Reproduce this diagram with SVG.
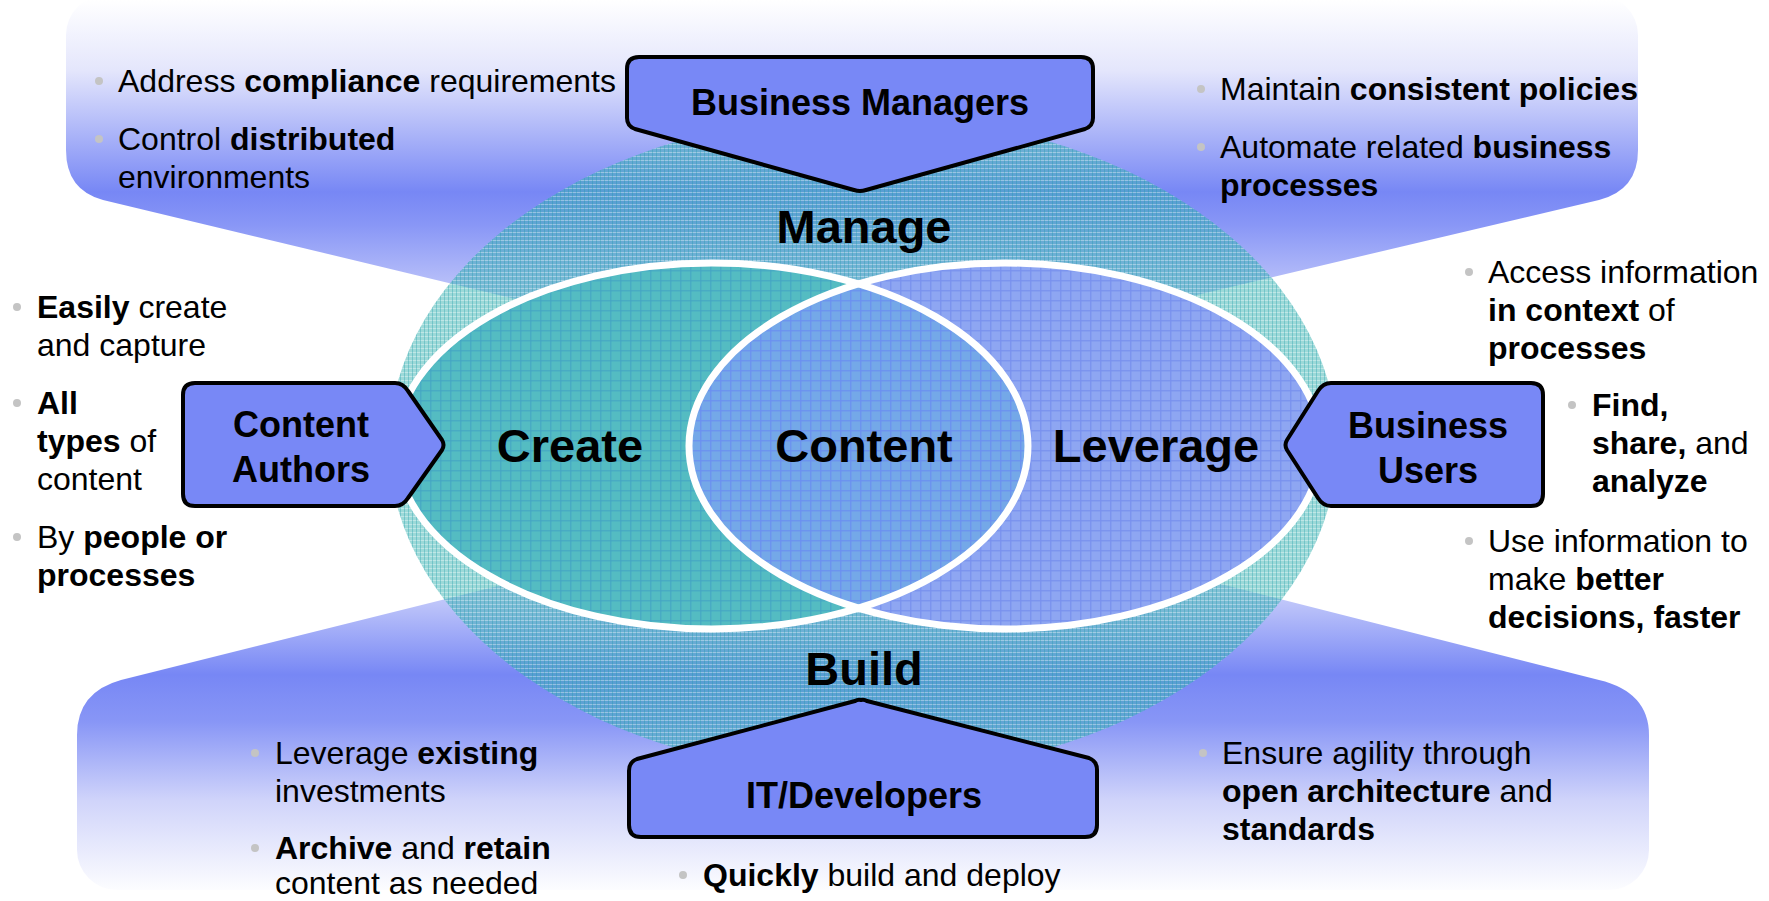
<svg xmlns="http://www.w3.org/2000/svg" width="1769" height="901" viewBox="0 0 1769 901">
<defs>
<style>
text{font-family:"Liberation Sans",Arial,sans-serif;fill:#000}
.b{font-weight:bold}
.bul{font-size:32px}
.big{font-size:47px;font-weight:bold;text-anchor:middle}
.lbl{font-size:36px;font-weight:bold;text-anchor:middle}
.box{fill:#7888f6;stroke:#000;stroke-width:4;stroke-linejoin:round}
.dot{fill:#c4c4c4}
.ring{fill:none;stroke:#fff;stroke-width:7}
</style>
<linearGradient id="gTop" gradientUnits="userSpaceOnUse" x1="0" y1="0" x2="0" y2="320">
<stop offset="0" stop-color="#ffffff"/>
<stop offset="0.22" stop-color="#e4e6fc"/>
<stop offset="0.6" stop-color="#7787f5"/>
<stop offset="0.7" stop-color="#8896f6"/>
<stop offset="1" stop-color="#d4d8fb"/>
</linearGradient>
<linearGradient id="gBot" gradientUnits="userSpaceOnUse" x1="0" y1="580" x2="0" y2="895">
<stop offset="0" stop-color="#d4d8fb"/>
<stop offset="0.3" stop-color="#7787f5"/>
<stop offset="0.45" stop-color="#8896f6"/>
<stop offset="0.7" stop-color="#d0d4fa"/>
<stop offset="1" stop-color="#ffffff"/>
</linearGradient>
<pattern id="plaid" width="4" height="4" patternUnits="userSpaceOnUse">
<rect width="4" height="4" fill="#3ab4b2" fill-opacity="0.5"/>
<rect width="4" height="1" fill="#ffffff" fill-opacity="0.35"/>
<rect width="1" height="4" fill="#1e9aa8" fill-opacity="0.35"/>
</pattern>
<pattern id="gridL" width="10" height="10" patternUnits="userSpaceOnUse">
<rect width="10" height="10" fill="#54bcc2"/>
<rect width="10" height="1.5" fill="#44a4c4" fill-opacity="0.7"/>
<rect width="1.5" height="10" fill="#44a4c4" fill-opacity="0.7"/>
</pattern>
<pattern id="gridR" width="10" height="10" patternUnits="userSpaceOnUse">
<rect width="10" height="10" fill="#8ea6f2"/>
<rect width="10" height="1.5" fill="#7890ee" fill-opacity="0.8"/>
<rect width="1.5" height="10" fill="#7890ee" fill-opacity="0.8"/>
</pattern>
<pattern id="gridC" width="10" height="10" patternUnits="userSpaceOnUse">
<rect width="10" height="10" fill="#74a8e8"/>
<rect width="10" height="1.5" fill="#6a8ef0" fill-opacity="0.8"/>
<rect width="1.5" height="10" fill="#6a8ef0" fill-opacity="0.8"/>
</pattern>
<clipPath id="clipL"><ellipse cx="712" cy="446" rx="316" ry="183"/></clipPath>
</defs>
<rect width="1769" height="901" fill="#fff"/>
<g id="connectors">
<path id="panel-top" d="M66,35 A40,40 0 0 1 106,-5 H1598 A40,40 0 0 1 1638,35 V150 Q1638,190 1599,200 L845,378 L103,200 Q66,190 66,150 Z" fill="url(#gTop)"/>
<path id="panel-bottom" d="M866,494 L121,680 Q77,692 77,735 V850 A40,40 0 0 0 117,890 H1609 A40,40 0 0 0 1649,850 V735 Q1649,692 1599,680 Z" fill="url(#gBot)"/>
</g>
<g id="venn">
<ellipse id="outer" cx="863" cy="445" rx="474" ry="330" fill="url(#plaid)"/>
<ellipse id="create" cx="712" cy="446" rx="316" ry="183" fill="url(#gridL)"/>
<ellipse id="leverage" cx="1005" cy="446" rx="316" ry="183" fill="url(#gridR)"/>
<ellipse id="content" cx="1005" cy="446" rx="316" ry="183" fill="url(#gridC)" clip-path="url(#clipL)"/>
<ellipse class="ring" cx="712" cy="446" rx="316" ry="183"/>
<ellipse class="ring" cx="1005" cy="446" rx="316" ry="183"/>
<text class="big" x="864" y="243">Manage</text>
<text class="big" x="570" y="462">Create</text>
<text class="big" x="864" y="462">Content</text>
<text class="big" x="1156" y="462">Leverage</text>
<text class="big" x="864" y="685">Build</text>
</g>
<g id="business-managers">
<path class="box" d="M639,57 H1081 Q1093,57 1093,69 V118 Q1093,126 1085,129 L866,190 Q860,192 854,190 L635,129 Q627,126 627,118 V69 Q627,57 639,57 Z"/>
<text class="lbl" x="860" y="115">Business Managers</text>
</g>
<g id="content-authors">
<path class="box" d="M195,383 H395 Q403,383 408,391 L442,440 Q445,445 442,450 L408,498 Q403,506 395,506 H195 Q183,506 183,494 V395 Q183,383 195,383 Z"/>
<text class="lbl" x="301" y="437">Content</text>
<text class="lbl" x="301" y="482">Authors</text>
</g>
<g id="business-users">
<path class="box" d="M1531,383 H1331 Q1323,383 1318,391 L1287,440 Q1284,445 1287,450 L1318,498 Q1323,506 1331,506 H1531 Q1543,506 1543,494 V395 Q1543,383 1531,383 Z"/>
<text class="lbl" x="1428" y="438">Business</text>
<text class="lbl" x="1428" y="483">Users</text>
</g>
<g id="it-developers">
<path class="box" d="M861,700 Q864,699 867,701 L1089,758 Q1097,761 1097,770 V825 Q1097,837 1085,837 H641 Q629,837 629,825 V771 Q629,762 637,759 L855,701 Q858,699 861,700 Z"/>
<text class="lbl" x="864" y="808">IT/Developers</text>
</g>
<g id="bullets-top-left">
<circle class="dot" cx="99" cy="81" r="4"/>
<text class="bul" x="118" y="92">Address <tspan class="b">compliance</tspan> requirements</text>
<circle class="dot" cx="99" cy="139" r="4"/>
<text class="bul" x="118" y="150">Control <tspan class="b">distributed</tspan></text>
<text class="bul" x="118" y="188">environments</text>
</g>
<g id="bullets-top-right">
<circle class="dot" cx="1201" cy="89" r="4"/>
<text class="bul" x="1220" y="100">Maintain <tspan class="b">consistent policies</tspan></text>
<circle class="dot" cx="1201" cy="147" r="4"/>
<text class="bul" x="1220" y="158">Automate related <tspan class="b">business</tspan></text>
<text class="bul b" x="1220" y="196">processes</text>
</g>
<g id="bullets-left">
<circle class="dot" cx="17" cy="307" r="4"/>
<text class="bul" x="37" y="318"><tspan class="b">Easily</tspan> create</text>
<text class="bul" x="37" y="356">and capture</text>
<circle class="dot" cx="17" cy="403" r="4"/>
<text class="bul b" x="37" y="414">All</text>
<text class="bul" x="37" y="452"><tspan class="b">types</tspan> of</text>
<text class="bul" x="37" y="490">content</text>
<circle class="dot" cx="17" cy="537" r="4"/>
<text class="bul" x="37" y="548">By <tspan class="b">people or</tspan></text>
<text class="bul b" x="37" y="586">processes</text>
</g>
<g id="bullets-right">
<circle class="dot" cx="1469" cy="272" r="4"/>
<text class="bul" x="1488" y="283">Access information</text>
<text class="bul" x="1488" y="321"><tspan class="b">in context</tspan> of</text>
<text class="bul b" x="1488" y="359">processes</text>
<circle class="dot" cx="1572" cy="405" r="4"/>
<text class="bul b" x="1592" y="416">Find,</text>
<text class="bul" x="1592" y="454"><tspan class="b">share,</tspan> and</text>
<text class="bul b" x="1592" y="492">analyze</text>
<circle class="dot" cx="1469" cy="541" r="4"/>
<text class="bul" x="1488" y="552">Use information to</text>
<text class="bul" x="1488" y="590">make <tspan class="b">better</tspan></text>
<text class="bul b" x="1488" y="628">decisions, faster</text>
</g>
<g id="bullets-bottom-left">
<circle class="dot" cx="255" cy="753" r="4"/>
<text class="bul" x="275" y="764">Leverage <tspan class="b">existing</tspan></text>
<text class="bul" x="275" y="802">investments</text>
<circle class="dot" cx="255" cy="848" r="4"/>
<text class="bul" x="275" y="859"><tspan class="b">Archive</tspan> and <tspan class="b">retain</tspan></text>
<text class="bul" x="275" y="894">content as needed</text>
</g>
<g id="bullets-bottom-center">
<circle class="dot" cx="683" cy="875" r="4"/>
<text class="bul" x="703" y="886"><tspan class="b">Quickly</tspan> build and deploy</text>
</g>
<g id="bullets-bottom-right">
<circle class="dot" cx="1203" cy="753" r="4"/>
<text class="bul" x="1222" y="764">Ensure agility through</text>
<text class="bul" x="1222" y="802"><tspan class="b">open architecture</tspan> and</text>
<text class="bul b" x="1222" y="840">standards</text>
</g>
</svg>
